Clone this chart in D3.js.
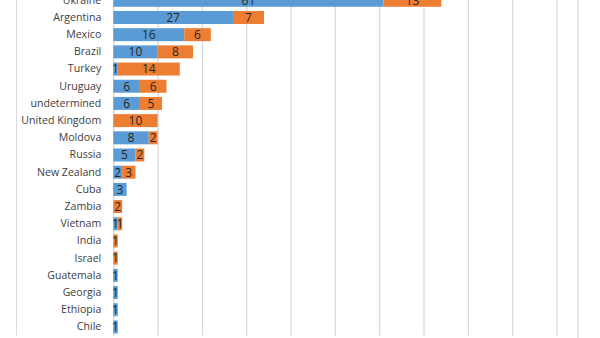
<!DOCTYPE html>
<html>
<head>
<meta charset="utf-8">
<script src="https://cdn.jsdelivr.net/npm/d3@7/dist/d3.min.js"></script>
<style>
  html, body { margin: 0; padding: 0; background: #fff; }
  svg { display: block; }
</style>
</head>
<body>
<svg id="chart" width="600" height="338"></svg>
<script>
// Countries, top to bottom
const categories = ["Ukraine", "Argentina", "Mexico", "Brazil", "Turkey", "Uruguay",
  "undetermined", "United Kingdom", "Moldova", "Russia", "New Zealand", "Cuba",
  "Zambia", "Vietnam", "India", "Israel", "Guatemala", "Georgia", "Ethiopia", "Chile"];
// First (blue) series
const seriesA = [61, 27, 16, 10, 1, 6, 6, 0, 8, 5, 2, 3, 0, 1, 0, 0, 1, 1, 1, 1];
// Second (orange) series
const seriesB = [13, 7, 6, 8, 14, 6, 5, 10, 2, 2, 3, 0, 2, 1, 1, 1, 0, 0, 0, 0];
// Value axis gridline positions
const xTicks = [0, 10, 20, 30, 40, 50, 60, 70, 80, 90, 100];

const colors = ["#5b9bd5", "#ed7d31"];
const font = "'Open Sans', sans-serif";

const svg = d3.select("#chart");
const plot = { left: 113.3, right: 556.5, top: -8.3, bottom: 335.5 };

const x = d3.scaleLinear().domain([0, 100]).range([plot.left, plot.right]);
const y = d3.scaleBand().domain(categories).range([plot.top, plot.bottom])
  .paddingInner(0.245).paddingOuter(0.1225);

const rows = categories.map((c, i) => ({ name: c, a: seriesA[i], b: seriesB[i] }));
const stacked = d3.stack().keys(["a", "b"])(rows);

// chart frame lines
svg.append("line").attr("x1", 16.5).attr("x2", 16.5).attr("y1", 0).attr("y2", 335.5)
  .attr("stroke", "#d9d9d9").attr("stroke-width", 1);
svg.append("line").attr("x1", 578).attr("x2", 578).attr("y1", 0).attr("y2", 338)
  .attr("stroke", "#d9d9d9").attr("stroke-width", 1.3);

// vertical gridlines
svg.append("g")
  .attr("transform", `translate(0,${plot.bottom})`)
  .call(d3.axisBottom(x).tickValues(xTicks).tickSize(-(plot.bottom - plot.top)).tickFormat(""))
  .call(g => g.select(".domain").remove())
  .call(g => g.selectAll(".tick line").attr("stroke", "#d9d9d9").attr("stroke-width", 1.3));

// stacked bars
const layers = svg.append("g").selectAll("g").data(stacked).join("g")
  .attr("fill", (d, i) => colors[i]);

layers.selectAll("rect").data(d => d.filter(s => s[1] - s[0] > 0)).join("rect")
  .attr("x", d => x(d[0]))
  .attr("y", d => y(d.data.name))
  .attr("width", d => x(d[1]) - x(d[0]))
  .attr("height", y.bandwidth());

// value labels centered in each segment
layers.selectAll("text").data(d => d.filter(s => s[1] - s[0] > 0)).join("text")
  .attr("x", d => (x(d[0]) + x(d[1])) / 2)
  .attr("y", d => y(d.data.name) + y.bandwidth() / 2)
  .attr("dy", "0.36em")
  .attr("text-anchor", "middle")
  .attr("fill", "#262626")
  .attr("font-family", font)
  .attr("font-size", 12)
  .text(d => d[1] - d[0]);

// category axis labels
svg.append("g")
  .attr("transform", `translate(${plot.left},0)`)
  .call(d3.axisLeft(y).tickSize(0).tickPadding(12))
  .call(g => g.select(".domain").remove())
  .call(g => g.selectAll("text")
    .attr("fill", "#404040")
    .attr("font-family", font)
    .attr("font-size", 10.6));
</script>
</body>
</html>
